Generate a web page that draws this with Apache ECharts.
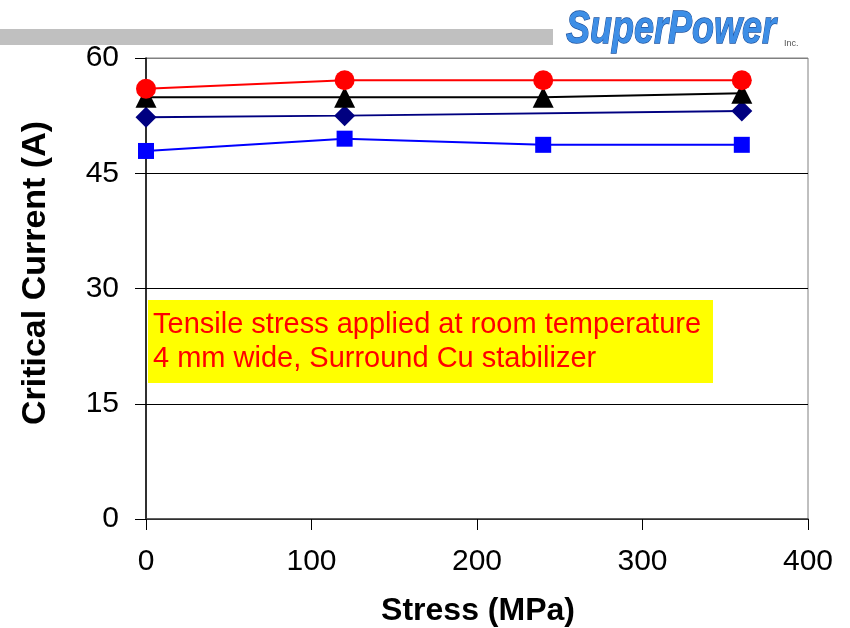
<!DOCTYPE html>
<html>
<head>
<meta charset="utf-8">
<script src="https://cdn.jsdelivr.net/npm/echarts@6/dist/echarts.min.js"></script>
<style>
html,body{margin:0;padding:0;background:#fff;}
#chart{width:850px;height:628px;}
</style>
</head>
<body>
<div id="chart"></div>
<script>
// Data
var stress = [0, 120, 240, 360];
var diamondStress = [0, 120, 360];
var diamondIc = [52.3, 52.5, 53.1];
var squareIc = [47.9, 49.5, 48.7, 48.7];
var triangleIc = [54.9, 54.9, 54.9, 55.4];
var circleIc = [56.0, 57.1, 57.1, 57.1];
var yTicks = [0, 15, 30, 45, 60];
var xTicks = [0, 100, 200, 300, 400];
var noteLines = ['Tensile stress applied at room temperature', '4 mm wide, Surround Cu stabilizer'];

function pairs(xs, ys) { return xs.map(function (x, i) { return [x, ys[i]]; }); }

var FONT = 'Liberation Sans, Arial, sans-serif';
var chart = echarts.init(document.getElementById('chart'), null, {renderer: 'canvas'});

function mkSeries(name, data, color, symbol, size) {
  return {
    name: name, type: 'line', data: data, symbol: symbol, symbolSize: size,
    itemStyle: {color: color}, lineStyle: {color: color, width: 2},
    showSymbol: true, animation: false, z: 3
  };
}

chart.setOption({
  animation: false,
  grid: {left: 146, right: 42, top: 58, bottom: 109, show: true, borderColor: '#808080', borderWidth: 1},
  xAxis: {
    type: 'value', min: xTicks[0], max: xTicks[xTicks.length - 1], interval: 100,
    axisLine: {show: true, lineStyle: {color: '#404040', width: 1.5}},
    axisTick: {show: true, length: 11, lineStyle: {color: '#000'}},
    axisLabel: {color: '#000', fontSize: 30, fontFamily: FONT, margin: 28},
    splitLine: {show: false}
  },
  yAxis: {
    type: 'value', min: yTicks[0], max: yTicks[yTicks.length - 1], interval: 15,
    axisLine: {show: true, lineStyle: {color: '#000', width: 1.5}},
    axisTick: {show: true, length: 11, inside: false, lineStyle: {color: '#000'}},
    axisLabel: {color: '#000', fontSize: 30, fontFamily: FONT, margin: 27},
    splitLine: {show: true, lineStyle: {color: ['#000', '#000', '#000', '#000', '#808080'], width: 1}}
  },
  series: [
    mkSeries('diamond', pairs(diamondStress, diamondIc), '#000080', 'diamond', 21),
    mkSeries('square', pairs(stress, squareIc), '#0000ff', 'rect', 16),
    mkSeries('triangle', pairs(stress, triangleIc), '#000000', 'triangle', 21),
    mkSeries('circle', pairs(stress, circleIc), '#ff0000', 'circle', 20)
  ],
  graphic: [
    {type: 'rect', left: 0, top: 29, shape: {width: 553, height: 16}, style: {fill: '#c0c0c0'}, z: 1},
    {type: 'rect', left: 148, top: 300, shape: {width: 565, height: 83}, style: {fill: '#ffff00'}, z: 10},
    {type: 'text', left: 153, top: 310, z: 11, style: {text: noteLines[0], fill: '#ff0000', fontSize: 29, fontFamily: FONT}},
    {type: 'text', left: 153, top: 344, z: 11, style: {text: noteLines[1], fill: '#ff0000', fontSize: 29, fontFamily: FONT}},
    {type: 'text', x: 478, y: 611, z: 11, style: {text: 'Stress (MPa)', fill: '#000', fontSize: 32, fontWeight: 'bold', fontFamily: FONT, align: 'center', verticalAlign: 'middle'}},
    {type: 'text', x: 36, y: 273, rotation: Math.PI / 2, z: 11, style: {text: 'Critical Current (A)', fill: '#000', fontSize: 34, fontWeight: 'bold', fontFamily: FONT, align: 'center', verticalAlign: 'middle'}},
    {type: 'text', x: 566, y: 30, scaleY: 1.3, z: 11, style: {text: 'SuperPower', fill: '#3d8ee6', stroke: '#1b4f9c', lineWidth: 1, fontSize: 36, fontWeight: 'bold', fontStyle: 'italic', fontFamily: FONT, verticalAlign: 'middle', align: 'left'}},
    {type: 'text', x: 784, y: 44, z: 11, style: {text: 'Inc.', fill: '#555', fontSize: 9, fontFamily: FONT, verticalAlign: 'middle'}}
  ]
});
</script>
</body>
</html>
